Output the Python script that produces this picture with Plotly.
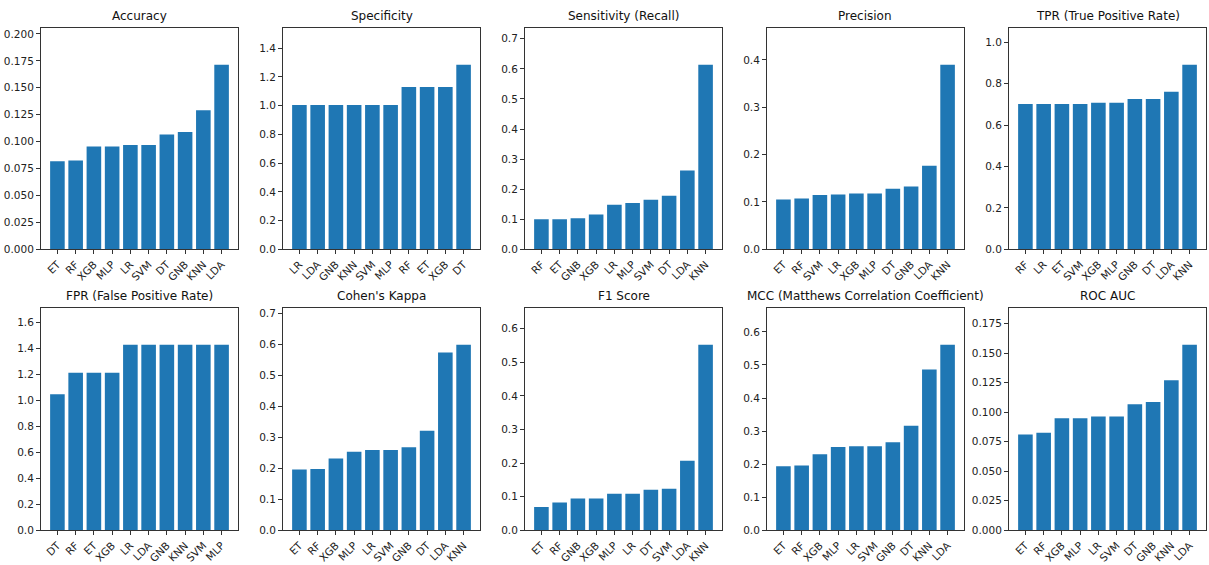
import plotly.graph_objects as go

BLUE = "#1f77b4"

acc_models = ["ET", "RF", "XGB", "MLP", "LR", "SVM", "DT", "GNB", "KNN", "LDA"]
acc_vals = [0.0819, 0.0825, 0.0954, 0.0954, 0.0969, 0.0969, 0.1067, 0.1089, 0.1291, 0.1715]

spec_models = ["LR", "LDA", "GNB", "KNN", "SVM", "MLP", "RF", "ET", "XGB", "DT"]
spec_vals = [1.005, 1.005, 1.005, 1.005, 1.005, 1.005, 1.129, 1.129, 1.129, 1.285]

sens_models = ["RF", "ET", "GNB", "XGB", "LR", "MLP", "SVM", "DT", "LDA", "KNN"]
sens_vals = [0.100, 0.100, 0.103, 0.116, 0.148, 0.154, 0.165, 0.178, 0.262, 0.614]

prec_models = ["ET", "RF", "SVM", "LR", "XGB", "MLP", "DT", "GNB", "LDA", "KNN"]
prec_vals = [0.105, 0.1075, 0.1145, 0.116, 0.118, 0.118, 0.128, 0.1326, 0.1766, 0.390]

tpr_models = ["RF", "LR", "ET", "SVM", "XGB", "MLP", "GNB", "DT", "LDA", "KNN"]
tpr_vals = [0.702, 0.702, 0.702, 0.702, 0.708, 0.708, 0.726, 0.726, 0.761, 0.8915]

fpr_models = ["DT", "RF", "ET", "XGB", "LR", "LDA", "GNB", "KNN", "SVM", "MLP"]
fpr_vals = [1.046, 1.211, 1.211, 1.211, 1.425, 1.425, 1.425, 1.425, 1.425, 1.425]

kappa_models = ["ET", "RF", "XGB", "MLP", "LR", "SVM", "GNB", "DT", "LDA", "KNN"]
kappa_vals = [0.196, 0.198, 0.232, 0.2536, 0.259, 0.259, 0.2685, 0.3218, 0.574, 0.599]

f1_models = ["ET", "RF", "GNB", "XGB", "MLP", "LR", "DT", "SVM", "LDA", "KNN"]
f1_vals = [0.0696, 0.0824, 0.095, 0.095, 0.1088, 0.1088, 0.1206, 0.1235, 0.2069, 0.552]

mcc_models = ["ET", "RF", "XGB", "MLP", "LR", "SVM", "GNB", "DT", "KNN", "LDA"]
mcc_vals = [0.1934, 0.1963, 0.2302, 0.2522, 0.254, 0.254, 0.266, 0.316, 0.4864, 0.561]

roc_models = ["ET", "RF", "XGB", "MLP", "LR", "SVM", "DT", "GNB", "KNN", "LDA"]
roc_vals = [0.0812, 0.0826, 0.0949, 0.0949, 0.0963, 0.0963, 0.1067, 0.1087, 0.1271, 0.1571]

titles = ["Accuracy", "Specificity", "Sensitivity (Recall)", "Precision",
          "TPR (True Positive Rate)", "FPR (False Positive Rate)", "Cohen's Kappa",
          "F1 Score", "MCC (Matthews Correlation Coefficient)", "ROC AUC"]
panels = [(acc_models, acc_vals), (spec_models, spec_vals), (sens_models, sens_vals),
          (prec_models, prec_vals), (tpr_models, tpr_vals), (fpr_models, fpr_vals),
          (kappa_models, kappa_vals), (f1_models, f1_vals), (mcc_models, mcc_vals),
          (roc_models, roc_vals)]
tick_steps = [0.025, 0.2, 0.1, 0.1, 0.2, 0.2, 0.1, 0.1, 0.1, 0.025]
tick_fmts = [".3f", ".1f", ".1f", ".1f", ".1f", ".1f", ".1f", ".1f", ".1f", ".3f"]

W, H = 1209, 565
lefts = [41, 283, 525, 767, 1009]
pw = 197
rows_px = [(28, 252), (311, 536)]

fig = go.Figure()
FONT = "DejaVu Sans"
for i, ((models, vals), title) in enumerate(zip(panels, titles)):
    r, c = divmod(i, 5)
    n = i + 1
    xa = "xaxis" if n == 1 else f"xaxis{n}"
    ya = "yaxis" if n == 1 else f"yaxis{n}"
    xref = "x" if n == 1 else f"x{n}"
    yref = "y" if n == 1 else f"y{n}"
    fig.add_trace(go.Bar(x=models, y=vals, marker=dict(color=BLUE, line=dict(width=0)),
                         width=0.8, xaxis=xref, yaxis=yref, showlegend=False))
    x0 = lefts[c] / W
    x1 = (lefts[c] + pw) / W
    top, bot = rows_px[r]
    y0 = 1 - bot / H
    y1 = 1 - top / H
    ymax = max(vals) * 1.2
    fig.layout[xa] = dict(domain=[x0, x1], anchor=yref, range=[-0.9, len(models) - 0.1],
                          showline=True, mirror=True, linecolor="#333", linewidth=1,
                          ticks="outside", ticklen=4, tickcolor="#333", tickangle=-45,
                          tickfont=dict(family=FONT, size=10.5, color="#222"), showgrid=False,
                          zeroline=False, fixedrange=True)
    fig.layout[ya] = dict(domain=[y0, y1], anchor=xref, range=[0, ymax],
                          showline=True, mirror=True, linecolor="#333", linewidth=1,
                          ticks="outside", ticklen=4, tickcolor="#333",
                          dtick=tick_steps[i], tick0=0, tickformat=tick_fmts[i],
                          tickfont=dict(family=FONT, size=10.5, color="#222"), showgrid=False,
                          zeroline=False, fixedrange=True)
    fig.add_annotation(text=title, x=(x0 + x1) / 2, y=y1, xref="paper", yref="paper",
                       xanchor="center", yanchor="bottom", yshift=3, showarrow=False,
                       font=dict(family=FONT, size=12, color="#111"))

fig.update_layout(width=W, height=H, autosize=False, margin=dict(l=0, r=0, t=0, b=0),
                  plot_bgcolor="white", paper_bgcolor="white", bargap=0.2)
fig.write_html("out.html", config={"displayModeBar": False},
               post_script="document.body.style.margin='0';document.body.style.overflow='hidden';")
